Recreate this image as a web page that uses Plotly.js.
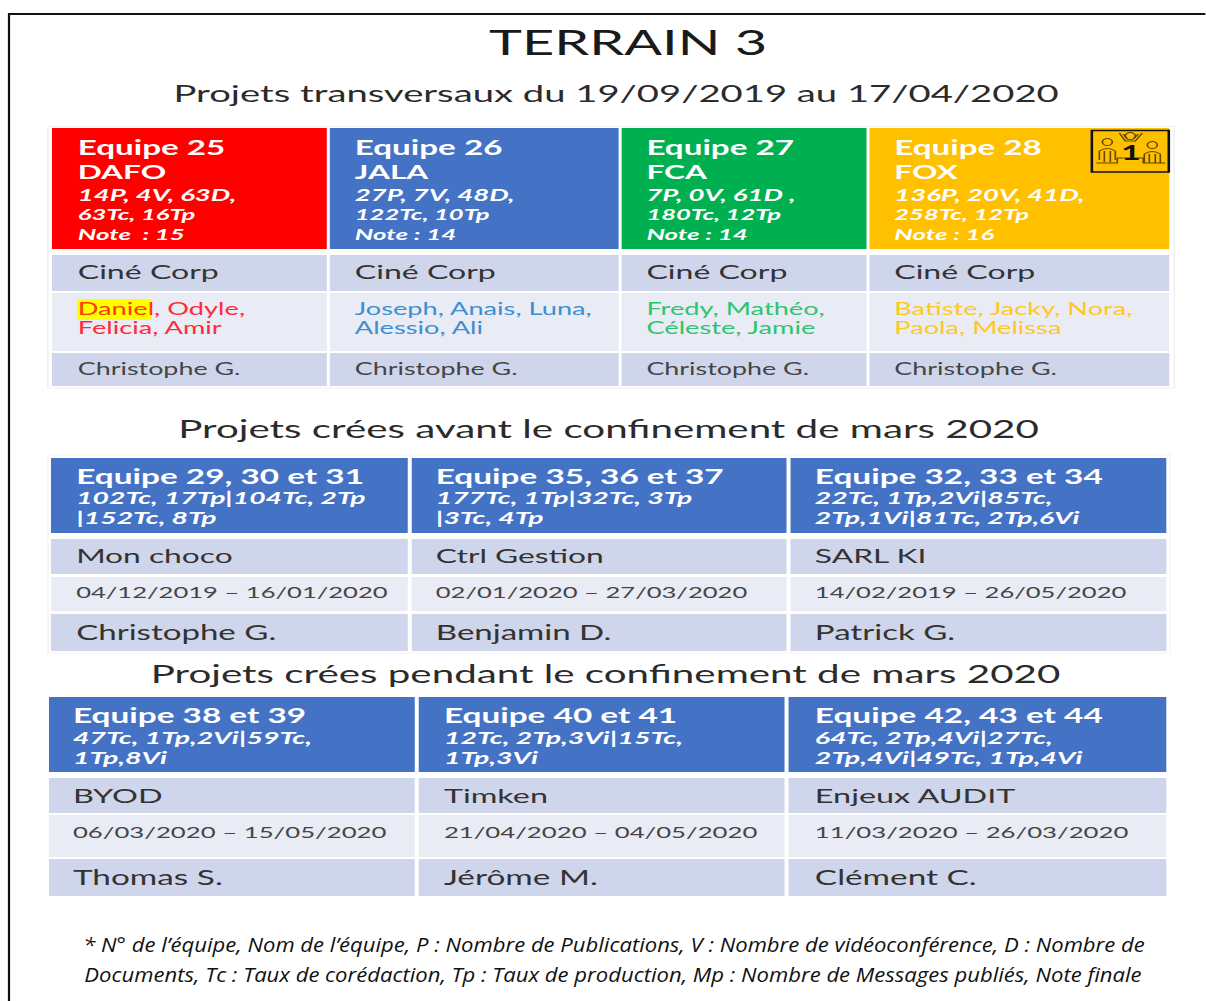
<!DOCTYPE html>
<html><head><meta charset="utf-8">
<script src="https://cdn.plot.ly/plotly-3.0.1.min.js"></script>
<style>
html,body{margin:0;padding:0;background:#fff;overflow:hidden;width:1206px;height:1001px}
#frame{position:absolute;left:0;top:0;transform-origin:0 0}
#main{position:absolute;left:0;top:0;transform-origin:0 0}
</style></head><body>
<div id="main"></div><div id="frame"></div>
<script>
// ---- text content ----
const mainTitle = 'TERRAIN 3';
const sectionTitles = ['Projets transversaux du 19/09/2019 au 17/04/2020',
  'Projets crées avant le confinement de mars 2020',
  'Projets crées pendant le confinement de mars 2020'];
const teams1 = ['Equipe 25','Equipe 26','Equipe 27','Equipe 28'];
const names1 = ['DAFO','JALA','FCA','FOX'];
const stats1a = ['14P, 4V, 63D,','27P, 7V, 48D,','7P, 0V, 61D ,','136P, 20V, 41D,'];
const stats1b = ['63Tc, 16Tp','122Tc, 10Tp','180Tc, 12Tp','258Tc, 12Tp'];
const notes1 = ['Note  : 15','Note : 14','Note : 14','Note : 16'];
const clients1 = ['Ciné Corp','Ciné Corp','Ciné Corp','Ciné Corp'];
const members1a = ['Daniel, Odyle,','Joseph, Anais, Luna,','Fredy, Mathéo,','Batiste, Jacky, Nora,'];
const members1b = ['Felicia, Amir','Alessio, Ali','Céleste, Jamie','Paola, Melissa'];
const tutors1 = ['Christophe G.','Christophe G.','Christophe G.','Christophe G.'];

const teams2 = ['Equipe 29, 30 et 31','Equipe 35, 36 et 37','Equipe 32, 33 et 34'];
const stats2a = ['102Tc, 17Tp|104Tc, 2Tp','177Tc, 1Tp|32Tc, 3Tp','22Tc, 1Tp,2Vi|85Tc,'];
const stats2b = ['|152Tc, 8Tp','|3Tc, 4Tp','2Tp,1Vi|81Tc, 2Tp,6Vi'];
const clients2 = ['Mon choco','Ctrl Gestion','SARL KI'];
const dates2 = ['04/12/2019 – 16/01/2020','02/01/2020 – 27/03/2020','14/02/2019 – 26/05/2020'];
const tutors2 = ['Christophe G.','Benjamin D.','Patrick G.'];

const teams3 = ['Equipe 38 et 39','Equipe 40 et 41','Equipe 42, 43 et 44'];
const stats3a = ['47Tc, 1Tp,2Vi|59Tc,','12Tc, 2Tp,3Vi|15Tc,','64Tc, 2Tp,4Vi|27Tc,'];
const stats3b = ['1Tp,8Vi','1Tp,3Vi','2Tp,4Vi|49Tc, 1Tp,4Vi'];
const clients3 = ['BYOD','Timken','Enjeux AUDIT'];
const dates3 = ['06/03/2020 – 15/05/2020','21/04/2020 – 04/05/2020','11/03/2020 – 26/03/2020'];
const tutors3 = ['Thomas S.','Jérôme M.','Clément C.'];

const footer1 = '* N° de l’équipe, Nom de l’équipe, P : Nombre de Publications, V : Nombre de vidéoconférence, D : Nombre de';
const footer2 = 'Documents, Tc : Taux de corédaction, Tp : Taux de production, Mp : Nombre de Messages publiés, Note finale';

// ---- styling ----
const W = 1206, H = 1001, STRETCH = 1.62, NOTE_STRETCH = 1.104;
const FONT = 'Lato, "Open Sans", sans-serif';
const BLUE='#4472C4', RED='#FF0000', GREEN='#00B050', AMBER='#FFC000';
const BAND='#CFD5EA', PALE='#E9EBF5', INK='#333333', GREY='#454545';
const memberColors=['#FF2B3A','#3C8FD2','#2FC46F','#FFC81E'];

const shapes=[], annotations=[];
function cell(x0,x1,y0,y1,fill){shapes.push({type:'rect',xref:'x',yref:'y',x0,x1,y0,y1,fillcolor:fill,line:{width:0},layer:'below'});}
function put(text,x,y,size,color,extra){annotations.push(Object.assign({text,x,y,xref:'x',yref:'y',showarrow:false,
  xanchor:'left',yanchor:'middle',align:'left',borderpad:0,font:{family:FONT,size,color}},extra||{}));}
function b(s){return '<b>'+s+'</b>';}
function bi(s){return '<b><i>'+s+'</i></b>';}

// section 1
const c1=[[52,327],[330,619],[622,867],[870,1170]], tx1=[76,353,645,893];
const fills1=[RED,BLUE,GREEN,AMBER];
shapes.push({type:'rect',xref:'x',yref:'y',x0:48,x1:1175,y0:126.5,y1:388,line:{color:'#f1f1f1',width:1},fillcolor:'#fff',layer:'below'});
c1.forEach((c,i)=>{
  cell(c[0],c[1],128,249,fills1[i]); cell(c[0],c[1],255,291,BAND);
  cell(c[0],c[1],293,351,PALE); cell(c[0],c[1],353,386,BAND);
});
cell(77,152,299,320,'#FFFF00');
teams1.forEach((t,i)=>{
  const x=tx1[i];
  put(b(t),x,147,20.5,'#fff'); put(b(names1[i]),x,171,19.5,'#fff');
  put(bi(stats1a[i]),x,194,17,'#fff'); put(bi(stats1b[i]),x,213,15.8,'#fff'); put(bi(notes1[i]),x,233,16,'#fff');
  put(clients1[i],x,271,19.8,INK);
  const m=members1a[i];
  put(i===0?'<span style="color:#FF3A00">Daniel</span>'+m.slice(6):m,x,308,16.8,memberColors[i]);
  put(members1b[i],x,327,16.8,memberColors[i]);
  put(tutors1[i],x,369,16.6,GREY);
});

// section 2
const c2=[[51,408],[412,787],[791,1167]], tx2=[74,434,813];
shapes.push({type:'rect',xref:'x',yref:'y',x0:48,x1:1171,y0:455,y1:653,line:{color:'#f4f4f4',width:1},fillcolor:'#fff',layer:'below'});
c2.forEach((c,i)=>{
  cell(c[0],c[1],458,533,BLUE); cell(c[0],c[1],539,574,BAND);
  cell(c[0],c[1],577,611,PALE); cell(c[0],c[1],614,651,BAND);
  const x=tx2[i];
  put(b(teams2[i]),x,476,20.6,'#fff');
  put(bi(stats2a[i]),x,497,17.5,'#fff'); put(bi(stats2b[i]),x,517,17.5,'#fff');
  put(clients2[i],x,555,19.6,INK); put(dates2[i],x,591.5,15.8,GREY); put(tutors2[i],x,632,20.4,INK);
});

// section 3
const c3=[[49,415],[419,785],[789,1167]], tx3=[72,442,813];
c3.forEach((c,i)=>{
  cell(c[0],c[1],697,772,BLUE); cell(c[0],c[1],778,813,BAND);
  cell(c[0],c[1],815,857,PALE); cell(c[0],c[1],859,896,BAND);
  const x=tx3[i];
  put(b(teams3[i]),x,715,20.6,'#fff');
  put(bi(stats3a[i]),x,737,17.6,'#fff'); put(bi(stats3b[i]),x,757,17.6,'#fff');
  put(clients3[i],x,795,20,INK); put(dates3[i],x,831.5,15.9,GREY); put(tutors3[i],x,877,20.6,INK);
});

// section titles
[[616,93,23.6],[609,428,24.9],[607,673,24.9]].forEach((p,i)=>put(sectionTitles[i],p[0],p[1],p[2],'#2b2b2b',{xanchor:'center',align:'center'}));

// winner badge
shapes.push({type:'rect',xref:'x',yref:'y',x0:1092.5,x1:1169.5,y0:130.5,y1:172,line:{color:'#111',width:1.6},layer:'above'});
const pod={xref:'x',yref:'y',line:{color:'#5f4700',width:1},layer:'above'};
[ 'M1097 163 L1118 163 L1118 158 L1144 158 L1144 163 L1166 163',
  'M1100 160 L1100 151 Q1108 146 1116 151 L1116 160 M1105 151 L1105 162 M1111 151 L1111 162',
  'M1145 163 L1145 154 Q1153 149 1161 154 L1161 163 M1150 154 L1150 163 M1156 154 L1156 163',
  'M1120 133 L1126 141 L1136 141 L1143 133 M1124 134 L1128 139 M1139 134 L1134 139'
].forEach(p=>shapes.push(Object.assign({},pod,{type:'path',path:p})));
[[1108,142],[1153,145],[1131,136]].forEach(h=>shapes.push(Object.assign({},pod,{type:'circle',x0:h[0]-5,x1:h[0]+5,y0:h[1]-3.5,y1:h[1]+3.5})));
put(b('1'),1131,151,21,'#111',{xanchor:'center',align:'center'});

const axes={xaxis:{range:[0,W],visible:false,fixedrange:true},yaxis:{range:[H,0],visible:false,fixedrange:true}};
const cfg={displayModeBar:false,staticPlot:true,responsive:false};
const mainEl=document.getElementById('main');
mainEl.style.width=(W/STRETCH)+'px'; mainEl.style.height=H+'px';
mainEl.style.transform='scaleX('+STRETCH+')';
Plotly.newPlot(mainEl,[],Object.assign({width:W/STRETCH,height:H,margin:{l:0,r:0,t:0,b:0,pad:0},paper_bgcolor:'#fff',plot_bgcolor:'rgba(0,0,0,0)',
  showlegend:false,
  title:{text:mainTitle,x:628/W,xanchor:'center',y:1-43/H,yanchor:'middle',font:{family:FONT,size:34.5,color:'#1a1a1a'}},
  shapes,annotations},axes),cfg);

// page frame and footnote use their own, smaller stretch
const note=(text,y)=>({text,x:614,y,xref:'x',yref:'y',showarrow:false,xanchor:'center',yanchor:'middle',
  font:{family:'"Open Sans", sans-serif',size:20,color:'#111'}});
const frameEl=document.getElementById('frame');
frameEl.style.width=(W/NOTE_STRETCH)+'px'; frameEl.style.height=H+'px';
frameEl.style.transform='scaleX('+NOTE_STRETCH+')';
Plotly.newPlot(frameEl,[],Object.assign({width:W/NOTE_STRETCH,height:H,margin:{l:0,r:0,t:0,b:0,pad:0},paper_bgcolor:'rgba(0,0,0,0)',plot_bgcolor:'rgba(0,0,0,0)',showlegend:false,
  shapes:[{type:'path',xref:'x',yref:'y',path:'M9 1001 L9 14 L1206 14',line:{color:'#111',width:2}}],
  annotations:[note('<i>'+footer1+'</i>',944),note('<i>'+footer2+'</i>',974)]},axes),cfg);
</script></body></html>
